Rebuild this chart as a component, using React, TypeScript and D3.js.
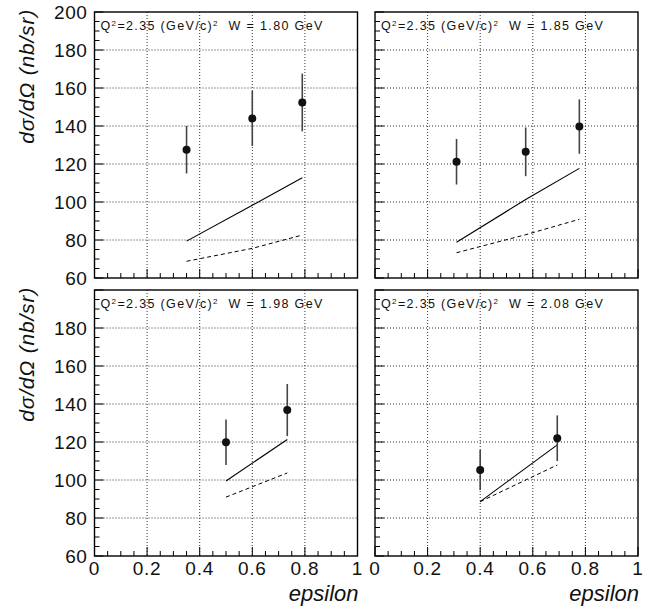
import React from "react";
import * as d3 from "d3";

// W value of each panel, left-right then top-bottom
const panelW = ["1.80", "1.85", "1.98", "2.08"];
// measured points: epsilon, cross section, error
const epsData = [
  [0.35, 0.6, 0.79],
  [0.31, 0.573, 0.777],
  [0.5, 0.733],
  [0.4, 0.693],
];
const sigmaData = [
  [127.5, 144, 152.4],
  [121.2, 126.4, 139.7],
  [119.9, 136.8],
  [105.3, 122],
];
const sigmaErr = [
  [12.5, 14.5, 15.2],
  [12, 12.8, 14.3],
  [12, 13.7],
  [10.5, 12],
];
// model curves, evaluated at the same epsilon values
const solidCurve = [
  [79.4, 98.3, 112.8],
  [78.8, 101.3, 117.7],
  [99.5, 121.3],
  [88.6, 118.5],
];
const dashedCurve = [
  [68.8, 75.6, 82.6],
  [73.3, 82.8, 90.9],
  [91, 103.7],
  [88.6, 107.9],
];
const xTicks = [0, 0.2, 0.4, 0.6, 0.8, 1];
const yTicks = [60, 80, 100, 120, 140, 160, 180, 200];

const W = 658;
const H = 611;
const colX = [94.5, 375];
const rowY = [12, 290];
const pw = 263;
const ph = 266;
const font = "'Liberation Sans', Arial, Helvetica, sans-serif";

function Panel({ i }: { i: number }) {
  const col = i % 2;
  const row = Math.floor(i / 2);
  const x0 = colX[col];
  const y0 = rowY[row];
  const x = d3.scaleLinear().domain([0, 1]).range([x0, x0 + pw]);
  const y = d3.scaleLinear().domain([60, 200]).range([y0 + ph, y0]);
  const eps = epsData[i];
  const line = d3
    .line<number>()
    .x((_, k) => x(eps[k]))
    .y((v) => y(v));

  const xMinor = d3.range(0, 1.0001, 0.05);
  const yMinor = d3.range(60, 200.001, 5);

  return (
    <g>
      {/* grid */}
      {xTicks.slice(1, -1).map((t) => (
        <line key={"gx" + t} x1={x(t)} x2={x(t)} y1={y0} y2={y0 + ph}
          stroke="#333" strokeWidth={1} strokeDasharray="1 2" />
      ))}
      {yTicks.slice(1, -1).map((t) => (
        <line key={"gy" + t} x1={x0} x2={x0 + pw} y1={y(t)} y2={y(t)}
          stroke="#333" strokeWidth={1} strokeDasharray="1 2" />
      ))}
      {/* ticks */}
      {xMinor.map((t, k) => (
        <line key={"tx" + k} x1={x(t)} x2={x(t)} y1={y0 + ph}
          y2={y0 + ph - (k % 4 === 0 ? 9 : 5)} stroke="#000" />
      ))}
      {yMinor.map((t, k) => (
        <line key={"ty" + k} x1={x0} x2={x0 + (k % 4 === 0 ? 9 : 5)}
          y1={y(t)} y2={y(t)} stroke="#000" />
      ))}
      <rect x={x0} y={y0} width={pw} height={ph} fill="none" stroke="#000" strokeWidth={1.4} />

      {/* curves */}
      <path d={line(solidCurve[i]) || ""} fill="none" stroke="#000" strokeWidth={1.1} />
      <path d={line(dashedCurve[i]) || ""} fill="none" stroke="#000" strokeWidth={1}
        strokeDasharray="4 3" />

      {/* data */}
      {eps.map((e, k) => (
        <g key={"p" + k}>
          <line x1={x(e)} x2={x(e)} y1={y(sigmaData[i][k] - sigmaErr[i][k])}
            y2={y(sigmaData[i][k] + sigmaErr[i][k])} stroke="#444" strokeWidth={1.6} />
          <circle cx={x(e)} cy={y(sigmaData[i][k])} r={4} fill="#111" />
        </g>
      ))}

      {/* header */}
      <text x={x0 + 6} y={y0 + 18} fontFamily={font} fontSize={12.5}
        letterSpacing={1.35} fill="#111">
        Q<tspan dy={-4} fontSize={8}>2</tspan>
        <tspan dy={4}>=2.35 (GeV/c)</tspan>
        <tspan dy={-4} fontSize={8}>2</tspan>
        <tspan dy={4}>{"\u00a0 W = " + panelW[i] + " GeV"}</tspan>
      </text>

      {/* y labels */}
      {col === 0 &&
        yTicks
          .filter((t) => !(row === 1 && t === 200))
          .map((t) => (
            <text key={"ly" + t} x={x0 - 7} y={y(t)} dy="0.36em" textAnchor="end"
              fontFamily={font} fontSize={19} letterSpacing={0.6} fill="#111">
              {t}
            </text>
          ))}
      {col === 0 && (
        <text transform={`translate(34,${y0 - 3}) rotate(-90)`} textAnchor="end"
          fontFamily={font} fontSize={21} fontStyle="italic" letterSpacing={0.8} fill="#111">
          dσ/dΩ (nb/sr)
        </text>
      )}

      {/* x labels */}
      {row === 1 &&
        xTicks.map((t) => (
          <text key={"lx" + t} x={x(t)} y={575} textAnchor="middle" fontFamily={font}
            fontSize={19} letterSpacing={0.8} fill="#111">
            {t}
          </text>
        ))}
      {row === 1 && (
        <text x={x0 + pw + 1} y={601} textAnchor="end" fontFamily={font} fontSize={22}
          fontStyle="italic" fill="#111">
          epsilon
        </text>
      )}
    </g>
  );
}

export default function App() {
  return (
    <svg width={W} height={H} style={{ position: "absolute", left: 0, top: 0, background: "#fff" }}>
      <rect width={W} height={H} fill="#fff" />
      {panelW.map((_, i) => (
        <Panel key={i} i={i} />
      ))}
    </svg>
  );
}
